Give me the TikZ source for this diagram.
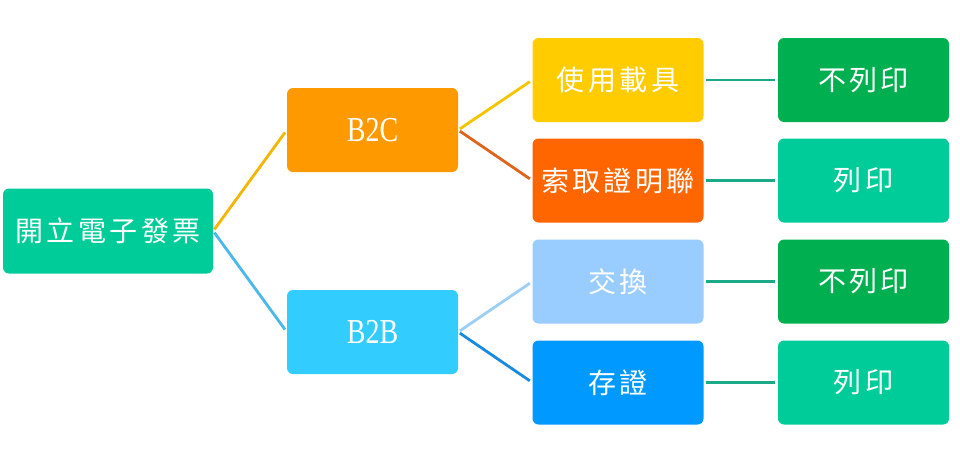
\documentclass[tikz,border=0pt]{standalone}
\usepackage{fontspec}
\newfontfamily\cjk[LetterSpace=12]{Noto Sans CJK TC}
\newfontfamily\latinf{Liberation Serif}
\definecolor{cRoot}{HTML}{00CC99}
\definecolor{cBtoC}{HTML}{FF9900}
\definecolor{cBtoB}{HTML}{33CCFF}
\definecolor{cCarrier}{HTML}{FFCC00}
\definecolor{cProof}{HTML}{FF6600}
\definecolor{cExch}{HTML}{99CCFF}
\definecolor{cStore}{HTML}{0099FF}
\definecolor{cNoPrint}{HTML}{00B050}
\definecolor{cPrint}{HTML}{00CC99}
\definecolor{lRootC}{HTML}{F2B705}
\definecolor{lRootB}{HTML}{4AB8E8}
\definecolor{lCarrier}{HTML}{F5C400}
\definecolor{lProof}{HTML}{E0651C}
\definecolor{lExch}{HTML}{9CCFF8}
\definecolor{lStore}{HTML}{1A8AE0}
\definecolor{lHoriz}{HTML}{1AAA88}
\begin{document}
\begin{tikzpicture}[x=1pt,y=-1pt,
  box/.style={rounded corners=6pt, minimum width=171pt, minimum height=84pt, inner sep=0pt, text=white, font=\cjk\fontsize{28}{32}\selectfont},
  latinbox/.style={box, font=\latinf\fontsize{35}{38}\selectfont},
  conn/.style={line width=2.8pt, shorten <=2pt, shorten >=3pt}]
\useasboundingbox[fill=white] (0,0) rectangle (960,467);
\node[box, fill=cRoot, minimum width=210pt, minimum height=85pt] (root) at (108,231) {開立電子發票};
\node[latinbox, fill=cBtoC] (b2c) at (372.5,130) {\scalebox{0.8}[1]{B2C}};
\node[latinbox, fill=cBtoB] (b2b) at (372.5,332) {\scalebox{0.8}[1]{B2B}};
\node[box, fill=cCarrier] (carrier) at (618,80) {使用載具};
\node[box, fill=cProof] (proof) at (618,180.5) {索取證明聯};
\node[box, fill=cExch] (exch) at (618,281.5) {交換};
\node[box, fill=cStore] (store) at (618,382.5) {存證};
\node[box, fill=cNoPrint] (np1) at (863.5,80) {不列印};
\node[box, fill=cPrint] (p1) at (863.5,180.5) {列印};
\node[box, fill=cNoPrint] (np2) at (863.5,281.5) {不列印};
\node[box, fill=cPrint] (p2) at (863.5,382.5) {列印};
\draw[conn, lRootC] (root.east) -- (b2c.west);
\draw[conn, lRootB] (root.east) -- (b2b.west);
\draw[conn, lCarrier] (b2c.east) -- (carrier.west);
\draw[conn, lProof] (b2c.east) -- (proof.west);
\draw[conn, lExch] (b2b.east) -- (exch.west);
\draw[conn, lStore] (b2b.east) -- (store.west);
\draw[conn, lHoriz] (carrier.east) -- (np1.west);
\draw[conn, lHoriz] (proof.east) -- (p1.west);
\draw[conn, lHoriz] (exch.east) -- (np2.west);
\draw[conn, lHoriz] (store.east) -- (p2.west);
\end{tikzpicture}
\end{document}
